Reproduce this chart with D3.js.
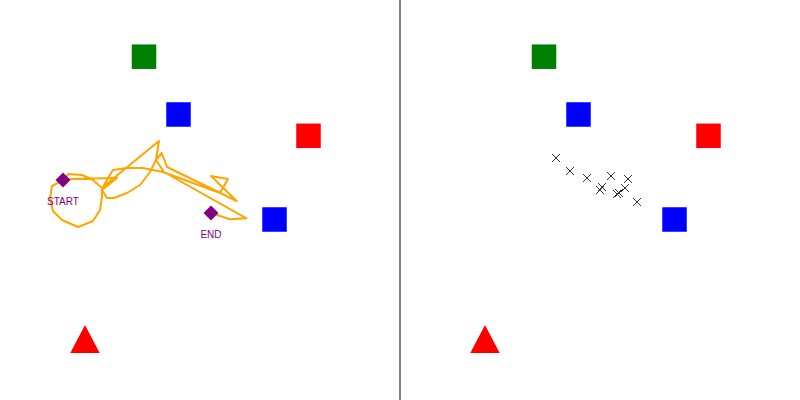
<!DOCTYPE html>
<html>
<head>
<meta charset="utf-8">
<script src="https://cdn.jsdelivr.net/npm/d3@7"></script>
<style>
  html, body { margin: 0; padding: 0; background: #fff; }
  svg { display: block; }
</style>
</head>
<body>
<svg id="chart" width="800" height="400"></svg>
<script>
// ---- data (panel coordinates, 0..400) ----
const squareX = [144, 178.5, 308.5, 274.5];
const squareY = [56.7, 114.5, 135.8, 219.5];
const squareKind = ["green", "blue", "red", "blue"];

const triangleX = [85];
const triangleY = [339];
const triangleKind = ["red"];

const pathX = [63, 52, 50, 53, 62, 78, 93, 100, 102, 102, 93, 82, 68, 66,
  117, 102, 107, 114, 127, 140, 150, 156, 159, 103, 108, 113, 127, 143, 163,
  220, 228, 211, 236.7, 167, 161.7, 156, 164, 246.5, 230, 211];
const pathY = [180, 186, 198, 211, 220, 227, 221, 210, 197, 188, 180, 175, 174, 179,
  178, 190, 198, 198, 193, 185, 172, 160, 141, 187, 178, 170, 168, 168, 172,
  193, 179, 176, 201, 167, 153, 160, 172, 218.3, 219.3, 213];

const endpointX = [63, 211];
const endpointY = [180, 213];
const endpointLabel = ["START", "END"];

const crossX = [156, 170, 187, 211, 202, 200, 228, 225, 219, 217, 237];
const crossY = [158, 171, 178, 176, 187, 190, 179, 188, 193, 194, 202];

const panels = ["trajectory", "points"];

// ---- drawing ----
const W = 800, H = 400, PW = 400;
const svg = d3.select("#chart");

const panelScale = d3.scaleBand().domain(panels).range([0, W]);
const x = d3.scaleLinear().domain([0, 400]).range([0, PW]);
const y = d3.scaleLinear().domain([0, 400]).range([0, H]);
const color = d3.scaleOrdinal()
  .domain(["green", "blue", "red"])
  .range(["#008000", "#0000ff", "#ff0000"]);

const SQ = 24.5;

panels.forEach((p, i) => {
  const g = svg.append("g").attr("transform", `translate(${panelScale(p)},0)`);

  // squares
  g.selectAll("rect.sq").data(squareX.map((d, j) => ({x: d, y: squareY[j], k: squareKind[j]})))
    .join("rect").attr("class", "sq")
    .attr("x", d => x(d.x) - SQ / 2)
    .attr("y", d => y(d.y) - SQ / 2)
    .attr("width", SQ).attr("height", SQ)
    .attr("fill", d => color(d.k));

  // triangle
  g.selectAll("path.tri").data(triangleX.map((d, j) => ({x: d, y: triangleY[j], k: triangleKind[j]})))
    .join("path").attr("class", "tri")
    .attr("d", d => {
      const cx = x(d.x), cy = y(d.y), hw = 14.7, hh = 13.9;
      return `M${cx},${cy - hh}L${cx + hw},${cy + hh}L${cx - hw},${cy + hh}Z`;
    })
    .attr("fill", d => color(d.k));

  if (i === 0) {
    const line = d3.line().x(d => x(d[0])).y(d => y(d[1]));
    g.append("path")
      .datum(pathX.map((d, j) => [d, pathY[j]]))
      .attr("d", line)
      .attr("fill", "none")
      .attr("stroke", "#ffa500")
      .attr("stroke-width", 2)
      .attr("stroke-linejoin", "round");

    const ep = endpointX.map((d, j) => ({x: d, y: endpointY[j], label: endpointLabel[j]}));
    g.selectAll("path.dia").data(ep).join("path").attr("class", "dia")
      .attr("d", d => {
        const cx = x(d.x), cy = y(d.y), r = 7.5;
        return `M${cx},${cy - r}L${cx + r},${cy}L${cx},${cy + r}L${cx - r},${cy}Z`;
      })
      .attr("fill", "#800080");
    g.selectAll("text.lab").data(ep).join("text").attr("class", "lab")
      .attr("x", d => x(d.x))
      .attr("y", d => y(d.y) + 25)
      .attr("text-anchor", "middle")
      .attr("font-family", "Liberation Sans, Arial, sans-serif")
      .attr("font-size", 10)
      .attr("fill", "#800080")
      .text(d => d.label);
  } else {
    const cr = 4;
    g.selectAll("path.cross").data(crossX.map((d, j) => [d, crossY[j]]))
      .join("path").attr("class", "cross")
      .attr("d", d => {
        const cx = x(d[0]), cy = y(d[1]);
        return `M${cx - cr},${cy - cr}L${cx + cr},${cy + cr}M${cx - cr},${cy + cr}L${cx + cr},${cy - cr}`;
      })
      .attr("stroke", "#333")
      .attr("stroke-width", 1)
      .attr("fill", "none");
  }
});

// divider
svg.append("line")
  .attr("x1", panelScale(panels[1])).attr("x2", panelScale(panels[1]))
  .attr("y1", 0).attr("y2", H)
  .attr("stroke", "#808080").attr("stroke-width", 2);
</script>
</body>
</html>
